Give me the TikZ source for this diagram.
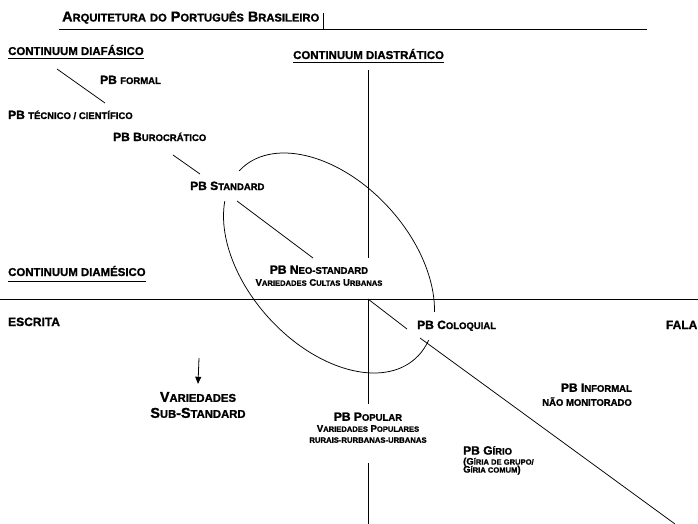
\documentclass[tikz,border=0pt]{standalone}
\usepackage{fontspec}
\setmainfont{Liberation Sans}[BoldFeatures={FakeBold=1.3}]
\usetikzlibrary{arrows.meta}
\newcommand\scA[1]{{\fontsize{9.5}{9.5}\selectfont #1}}
\newcommand\scB[1]{{\fontsize{7.6}{7.6}\selectfont #1}}
\newcommand\scT[1]{{\fontsize{11.2}{11.2}\selectfont #1}}
\newcommand\scS[1]{{\fontsize{11.3}{11.3}\selectfont #1}}
\newcommand\nolsk{\lineskiplimit=-50pt\relax}
\tikzset{
  lbl/.style={inner sep=0pt, font=\bfseries\fontsize{12}{12}\selectfont},
  head/.style={inner sep=0pt, font=\bfseries\fontsize{11.4}{11.4}\selectfont},
  ln/.style={line width=0.75pt},
  axis/.style={line width=0.9pt},
  arr/.style={line width=0.8pt, -{Triangle[length=7pt,width=6pt]}},
}
\begin{document}
\begin{tikzpicture}[x=1pt,y=-1pt]
\fill[white] (0,0) rectangle (698,524);
\useasboundingbox (0,0) rectangle (698,524);
% ellipse (neo-standard zone)
\draw[ln, rotate around={-47.8:(329,263)}] (329,263) ellipse [x radius=128.8pt, y radius=81.5pt];
% texts
\node[lbl, font=\bfseries\fontsize{14.4}{14.4}\selectfont, anchor=base west] (title) at (62,21.5)
  {A\scT{RQUITETURA} \scT{DO} P\scT{ORTUGUÊS} B\scT{RASILEIRO}};
\node[head, anchor=base west] (diaf) at (8,55) {CONTINUUM DIAFÁSICO};
\node[head, anchor=base west] (diastr) at (293,59) {CONTINUUM DIASTRÁTICO};
\node[head, anchor=base west] (diames) at (8,276) {CONTINUUM DIAMÉSICO};
\node[lbl, anchor=base west] (formal) at (100,84) {PB \scA{FORMAL}};
\node[lbl, anchor=base west] (tecnico) at (8,119) {PB \scA{TÉCNICO / CIENTÍFICO}};
\node[lbl, anchor=base west] (buro) at (113,141) {PB B\scA{UROCRÁTICO}};
\node[lbl, anchor=base west, fill=white, inner xsep=2pt, inner ysep=11pt] (standard) at (188,190) {PB S\scA{TANDARD}};
\node[lbl, anchor=north, align=center] (neo) at (319,265.3)
  {PB N\scA{EO-STANDARD}\\{\fontsize{9.5}{9.5}\selectfont V\scB{ARIEDADES} C\scB{ULTAS} U\scB{RBANAS}}};
\node[lbl, anchor=base west] (escrita) at (8,326) {ESCRITA};
\node[lbl, anchor=base east] (fala) at (697.5,329) {FALA};
\node[lbl, anchor=base west, fill=white, inner xsep=1pt, inner ysep=9pt] (coloq) at (416,329) {PB C\scA{OLOQUIAL}};
\node[lbl, anchor=north, align=center, font=\bfseries\fontsize{14.3}{16}\selectfont] (sub) at (198,391.8)
  {V\scS{ARIEDADES}\\S\scS{UB}-S\scS{TANDARD}};
\node[lbl, anchor=north, align=center, font={\bfseries\fontsize{12}{11}\selectfont\nolsk}] (pop) at (368,412.3)
  {PB P\scA{OPULAR}\\{\fontsize{9.5}{9.5}\selectfont V\scB{ARIEDADES} P\scB{OPULARES}}\\{\fontsize{7.7}{7.7}\selectfont RURAIS-RURBANAS-URBANAS}};
\node[lbl, anchor=north east, align=right, font=\bfseries\fontsize{12}{14}\selectfont] (inf) at (632,383.3)
  {PB I\scA{NFORMAL}\\\scA{NÃO MONITORADO}};
\node[lbl, anchor=north west, align=left, font={\bfseries\fontsize{12}{8}\selectfont\nolsk}] (girio) at (463,446)
  {PB G\scA{ÍRIO}\\[2pt]{\fontsize{9.5}{9.5}\selectfont (G\scB{ÍRIA DE GRUPO/}}\\{\fontsize{9.5}{9.5}\selectfont G\scB{ÍRIA COMUM})}};
% coordinates
\coordinate (tu) at (647,29.5);
\coordinate (c0) at (323,13); \coordinate (c1) at (323,30);
\coordinate (v0) at (368,70); \coordinate (v1) at (368,258);
\coordinate (o) at (368,299);
\coordinate (v2) at (368,404); \coordinate (v3) at (368,463); \coordinate (v4) at (368,524);
\coordinate (h0) at (0,299); \coordinate (h1) at (698,299);
\coordinate (d0) at (57,69); \coordinate (d1) at (105,103);
\coordinate (d2) at (173,155); \coordinate (d3) at (200,174);
\coordinate (d4) at (237,201); \coordinate (d5) at (313,258);
\coordinate (d6) at (407,329); \coordinate (d7) at (420,338);
\coordinate (d8) at (675,524);
\coordinate (a0) at (199,358);
% underlines
\draw[ln] ([xshift=-3pt,yshift=-8pt]title.base west) -- (tu);
\draw[line width=0.6pt] (c0) -- (c1);
\draw[ln] ([yshift=-3pt]diaf.base west) -- ([yshift=-3pt]diaf.base east);
\draw[ln] ([yshift=-3pt]diastr.base west) -- ([yshift=-3pt]diastr.base east);
\draw[ln] ([yshift=-5pt]diames.base west) -- ([yshift=-5pt]diames.base east);
% axes
\draw[axis] (v0) -- (v1);
\draw[axis] (o) -- (v2);
\draw[axis] (v3) -- (v4);
\draw[axis] (h0) -- (h1);
% diaphasic continuum diagonal
\draw[ln] (d0) -- (d1);
\draw[ln] (d2) -- (d3);
\draw[ln] (d4) -- (d5);
\draw[ln] (o) -- (d6);
\draw[ln] (d7) -- (d8);
% arrow
\draw[arr] (a0) -- ([yshift=8pt]sub.north);
\end{tikzpicture}
\end{document}
